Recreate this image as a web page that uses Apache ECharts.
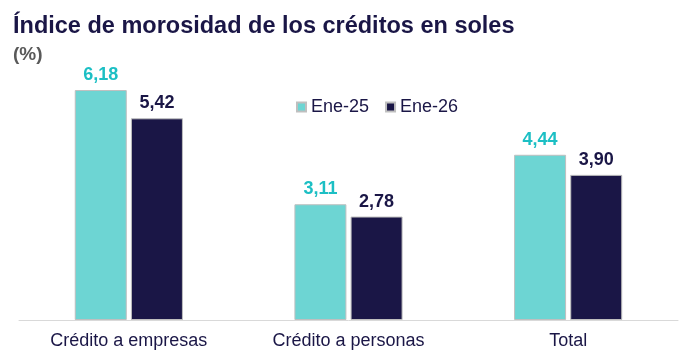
<!DOCTYPE html>
<html><head><meta charset="utf-8">
<script src="https://cdn.jsdelivr.net/npm/echarts@6/dist/echarts.min.js"></script>
<style>html,body{margin:0;padding:0;background:#fff}#c{width:698px;height:357px}</style>
</head><body><div id="c"></div>
<script>
const categories = ["Crédito a empresas", "Crédito a personas", "Total"];
const ene25 = [6.18, 3.11, 4.44];
const ene26 = [5.42, 2.78, 3.90];
const seriesNames = ["Ene-25", "Ene-26"];

const fmt = p => p.value.toFixed(2).replace('.', ',');
const chart = echarts.init(document.getElementById('c'));
chart.setOption({
  animation: false,
  title: [
    {text: "Índice de morosidad de los créditos en soles", left: 8, top: 10,
     textStyle: {fontFamily: 'Liberation Sans', fontWeight: 'bold', fontSize: 23.5, color: '#1A1646'}},
    {text: "(%)", left: 8, top: 40,
     textStyle: {fontFamily: 'Liberation Sans', fontWeight: 'bold', fontSize: 19, color: '#595959'}}
  ],
  legend: {
    data: seriesNames, left: 291, top: 93, itemWidth: 9, itemHeight: 9, itemGap: 16,
    icon: 'rect',
    textStyle: {fontFamily: 'Liberation Sans', fontSize: 18, color: '#1A1646'}
  },
  grid: {left: 19, right: 20, top: 59.5, bottom: 37, containLabel: false},
  xAxis: {
    type: 'category', data: categories,
    axisLine: {lineStyle: {color: '#D9D9D9', width: 1}},
    axisTick: {show: false},
    axisLabel: {fontFamily: 'Liberation Sans', fontSize: 18, color: '#1A1646', margin: 12}
  },
  yAxis: {type: 'value', min: 0, max: 7, show: false, splitLine: {show: false}},
  series: [
    {name: seriesNames[0], type: 'bar', data: ene25, barWidth: 52, barGap: '8%',
     itemStyle: {color: '#6DD5D3', borderColor: '#BFBFBF', borderWidth: 1},
     label: {show: true, position: 'top', distance: 6, formatter: fmt,
       fontFamily: 'Liberation Sans', fontWeight: 'bold', fontSize: 18, color: '#1CBFC4'}},
    {name: seriesNames[1], type: 'bar', data: ene26, barWidth: 52,
     itemStyle: {color: '#1A1646', borderColor: '#BFBFBF', borderWidth: 1},
     label: {show: true, position: 'top', distance: 6, formatter: fmt,
       fontFamily: 'Liberation Sans', fontWeight: 'bold', fontSize: 18, color: '#1A1646'}}
  ]
});
</script></body></html>
